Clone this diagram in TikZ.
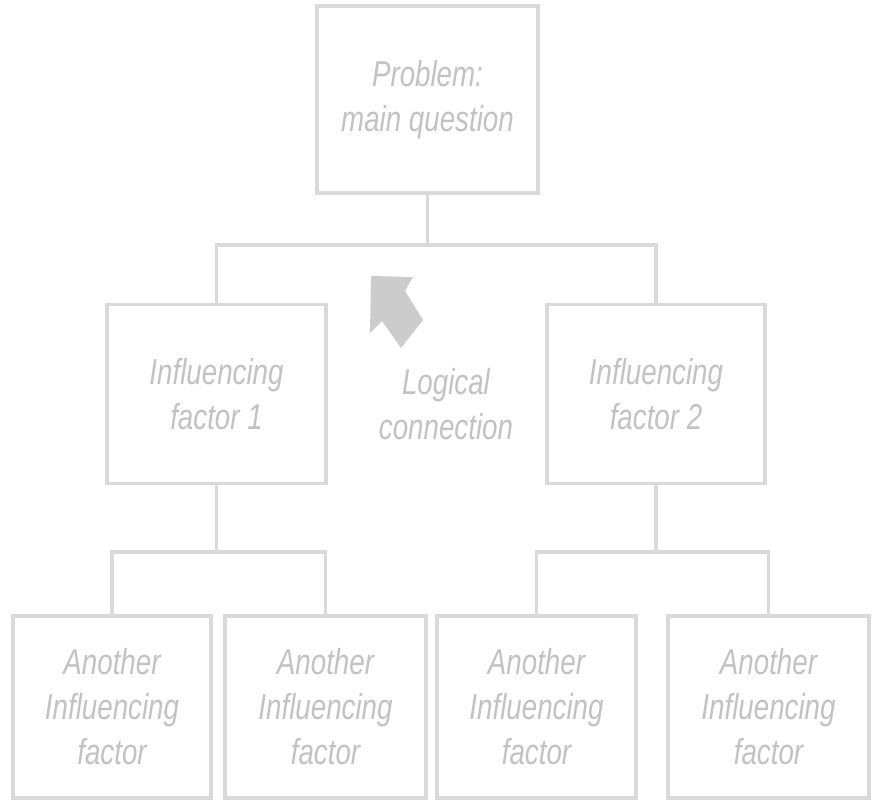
\documentclass[tikz,border=0pt]{standalone}
\usepackage{fontspec}
\newfontfamily\lblfont[FakeStretch=0.77]{Liberation Sans}
\definecolor{linegray}{HTML}{D9D9D9}
\definecolor{textgray}{HTML}{C2C2C2}
\definecolor{arrowgray}{HTML}{CCCCCC}
\begin{document}
\begin{tikzpicture}[x=1pt,y=-1pt,
  box/.style={draw=linegray, line width=3.5pt, fill=white, inner sep=0pt,
    align=center, text=textgray,
    font=\lblfont\itshape\fontsize{36}{45}\selectfont},
  conn/.style={draw=linegray, line width=3.5pt, line join=miter},
  lbl/.style={align=center, text=textgray, inner sep=0pt,
    font=\lblfont\itshape\fontsize{36}{45}\selectfont}]
\useasboundingbox[fill=white] (0,0) rectangle (874,803);

\node[box, minimum width=221pt, minimum height=187pt] (top) at (427.5,99.5) {Problem:\\main question};
\node[box, minimum width=219pt, minimum height=179pt] (midL) at (216.5,394) {Influencing\\factor 1};
\node[box, minimum width=218pt, minimum height=179pt] (midR) at (656,394) {Influencing\\factor 2};

\node[box, minimum width=198pt, minimum height=182pt] (b1) at (112,707) {Another\\Influencing\\factor};
\node[box, minimum width=201pt, minimum height=182pt] (b2) at (325.5,707) {Another\\Influencing\\factor};
\node[box, minimum width=199pt, minimum height=182pt] (b3) at (536.5,707) {Another\\Influencing\\factor};
\node[box, minimum width=201pt, minimum height=182pt] (b4) at (768.5,707) {Another\\Influencing\\factor};

\coordinate (j1) at (427.5,245);
\coordinate (j2) at (216.5,552);
\coordinate (j3) at (656,552);

\draw[conn] (top.south) -- (j1);
\draw[conn] (midL.north) |- (j1) -| (midR.north);
\draw[conn] (midL.south) -- (j2);
\draw[conn] (b1.north) |- (j2) -| (b2.north);
\draw[conn] (midR.south) -- (j3);
\draw[conn] (b3.north) |- (j3) -| (b4.north);

\fill[arrowgray] (371,276) -- (413,277) -- (405,291) -- (423,320) -- (401,348) -- (382,321) -- (370,333) -- cycle;

\node[lbl] (logic) at (446,404) {Logical\\connection};
\end{tikzpicture}
\end{document}
